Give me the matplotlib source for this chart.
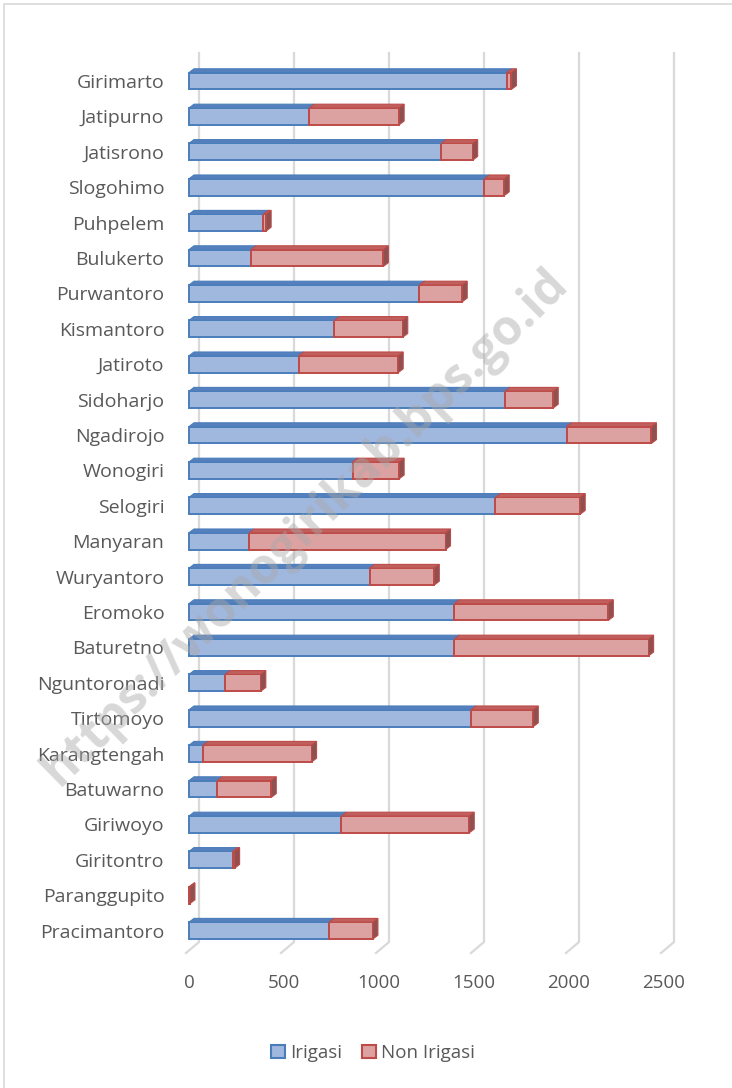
import matplotlib
matplotlib.use("Agg")
import matplotlib.pyplot as plt
from matplotlib.patches import Polygon, Patch, Rectangle
from matplotlib.lines import Line2D

plt.rcParams['font.family'] = ['Open Sans', 'DejaVu Sans']

kecamatan = ["Girimarto", "Jatipurno", "Jatisrono", "Slogohimo", "Puhpelem", "Bulukerto",
             "Purwantoro", "Kismantoro", "Jatiroto", "Sidoharjo", "Ngadirojo", "Wonogiri",
             "Selogiri", "Manyaran", "Wuryantoro", "Eromoko", "Baturetno", "Nguntoronadi",
             "Tirtomoyo", "Karangtengah", "Batuwarno", "Giriwoyo", "Giritontro",
             "Paranggupito", "Pracimantoro"]
irigasi = [1672, 632, 1327, 1554, 391, 326, 1213, 765, 577, 1663, 1987, 861,
           1613, 317, 950, 1397, 1397, 190, 1484, 74, 149, 802, 230, 0, 737]
non_irigasi = [25, 474, 166, 105, 15, 697, 225, 360, 524, 254, 447, 245,
               446, 1033, 341, 810, 1022, 188, 328, 571, 284, 673, 10, 5, 231]
xticks = [0, 500, 1000, 1500, 2000, 2500]
series_names = ["Irigasi", "Non Irigasi"]

W, H = 732, 1088
fig = plt.figure(figsize=(W / 100, H / 100), dpi=100)

# outer chart frame
fig.patches.append(Rectangle((4 / W, -0.1), 1.2, 1 - 4 / H + 0.1, transform=fig.transFigure,
                             fill=False, edgecolor="#d9d9d9", linewidth=1.2))

ax_l, ax_r, ax_t, ax_b = 170, 700, 40, 960
ax = fig.add_axes([ax_l / W, 1 - ax_b / H, (ax_r - ax_l) / W, (ax_b - ax_t) / H])

px_per_unit = 0.19
x0px = 189
xmin = (ax_l - x0px) / px_per_unit
xmax = (ax_r - x0px) / px_per_unit
spacing = 35.4
c0 = 81
ymin_top = (ax_t - c0) / spacing
ymax_bot = (ax_b - c0) / spacing
ax.set_xlim(xmin, xmax)
ax.set_ylim(ymax_bot, ymin_top)

n = len(kecamatan)
ypos = list(range(n))
bh = 0.475
dx = 5 / px_per_unit
dy = 3.8 / spacing

# back-wall gridlines with floor slant
gtop = (53 - c0) / spacing
gbot = (942 - c0) / spacing
gfront = (953 - c0) / spacing
for v in xticks:
    ax.add_line(Line2D([v + 10 / px_per_unit, v + 10 / px_per_unit, v - 3 / px_per_unit],
                       [gtop, gbot, gfront], color="#d9d9d9", linewidth=1.6, zorder=1))

blue_face, blue_edge, blue_top = "#a0b7de", "#4a7ebb", "#5580bd"
red_face, red_edge, red_top, red_side = "#dba2a1", "#be4b48", "#c0605e", "#8c5150"

ax.barh(ypos, irigasi, height=bh, color=blue_face, edgecolor=blue_edge, linewidth=1.4, zorder=3)
ax.barh(ypos, non_irigasi, left=irigasi, height=bh, color=red_face, edgecolor=red_edge,
        linewidth=1.4, zorder=3)

for i in range(n):
    ytop = i - bh / 2
    a, b = 0, irigasi[i]
    if b > 0:
        ax.add_patch(Polygon([(a, ytop), (b, ytop), (b + dx, ytop - dy), (a + dx, ytop - dy)],
                             closed=True, facecolor=blue_top, edgecolor=blue_edge,
                             linewidth=0.8, zorder=3))
    c = irigasi[i] + non_irigasi[i]
    if non_irigasi[i] > 0:
        ax.add_patch(Polygon([(b, ytop), (c, ytop), (c + dx, ytop - dy), (b + dx, ytop - dy)],
                             closed=True, facecolor=red_top, edgecolor=red_edge,
                             linewidth=0.8, zorder=3))
    ybot = i + bh / 2
    side_col = red_side if non_irigasi[i] > 0 else "#4a6a99"
    side_edge = red_edge if non_irigasi[i] > 0 else blue_edge
    ax.add_patch(Polygon([(c, ybot), (c, ytop), (c + dx, ytop - dy), (c + dx, ybot - dy)],
                         closed=True, facecolor=side_col, edgecolor=side_edge,
                         linewidth=0.8, zorder=3))

ax.set_yticks(ypos)
ax.set_yticklabels(kecamatan)
ax.set_xticks(xticks)
ax.set_xticklabels([str(v) for v in xticks])
ax.tick_params(axis="both", length=0, colors="#595959", labelsize=13.5)
ax.tick_params(axis="y", pad=4, labelsize=14)
ax.tick_params(axis="x", pad=10)
for s in ax.spines.values():
    s.set_visible(False)
ax.patch.set_visible(False)

handles = [Patch(facecolor=blue_face, edgecolor=blue_edge, linewidth=1.5),
           Patch(facecolor=red_face, edgecolor=red_edge, linewidth=1.5)]
leg = fig.legend(handles, series_names, loc="center", bbox_to_anchor=(373 / W, 1 - 1053 / H),
                 ncol=2, frameon=False, fontsize=13.5, handlelength=0.75, handleheight=0.75,
                 handletextpad=0.25, columnspacing=1.1)
for t in leg.get_texts():
    t.set_color("#595959")

fig.text(305 / W, 1 - 528 / H, "https://wonogirikab.bps.go.id", rotation=44.5,
         ha="center", va="center", fontsize=35, fontweight="bold", color="#a8a8a8",
         alpha=0.45, zorder=10)

fig.savefig("out.png", dpi=100)
